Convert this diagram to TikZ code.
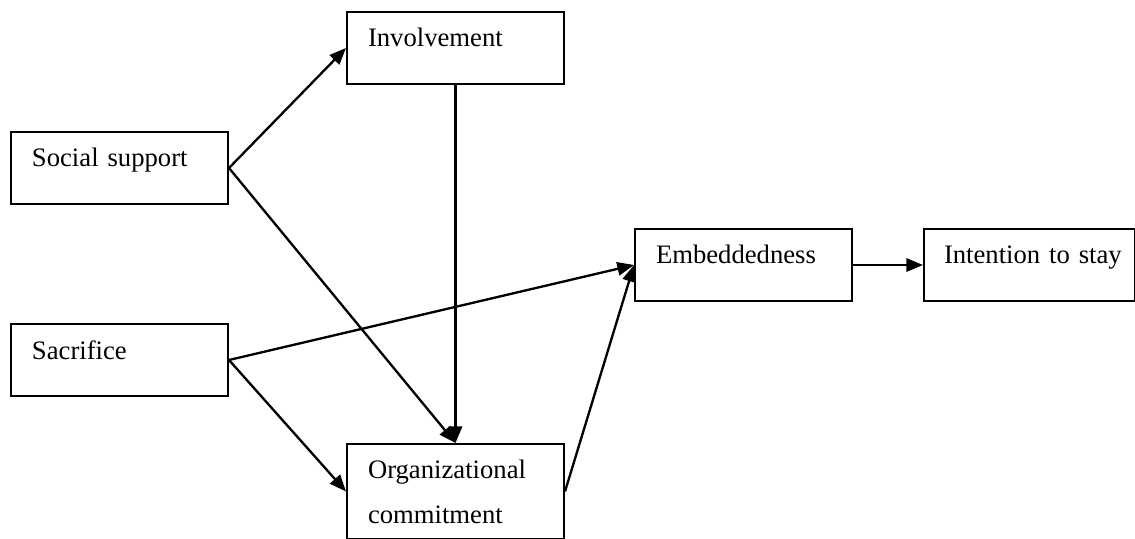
\documentclass[tikz,border=0pt]{standalone}
\usepackage{fontspec}
\setmainfont{Liberation Serif}
\usetikzlibrary{arrows.meta}
\tikzset{
  box/.style={draw, line width=.9pt, anchor=north west, inner xsep=9.45pt, inner ysep=0pt,
    text width=78.75pt, align=left, text height=15.75pt, text depth=16.65pt,
    font=\fontsize{12pt}{14pt}\selectfont},
  link/.style={line width=1.05pt, -{Triangle[length=7.5pt,width=6pt]}}
}
\begin{document}
\begin{tikzpicture}[x=.45pt,y=-.45pt]
    \useasboundingbox (0,0) rectangle (1135,539);
    \node[box] (social) at (10,131) {Social support};
    \node[box] (sacrifice) at (10,323) {Sacrifice};
    \node[box] (involve) at (346,11) {Involvement};
    \node[box, text height=15.3pt, text depth=27.45pt] (commit) at (346,443)
        {\parbox[t]{78.75pt}{\baselineskip=20.25pt Organizational\\commitment}};
    \node[box] (embed) at (634,228) {Embeddedness};
    \node[box, inner xsep=9pt, text width=76.95pt] (intent) at (923,228) {\mbox{Intention to stay}};
    \draw[link] (social.east) -- (involve.west);
    \draw[link] (social.east) -- (commit.north);
    \draw[link] (involve.south) -- (commit.north);
    \draw[link] (sacrifice.east) -- (embed.west);
    \draw[link] (sacrifice.east) -- (commit.west);
    \draw[link] (commit.east) -- (embed.west);
    \draw[link] (embed.east) -- (intent.west);
\end{tikzpicture}
\end{document}
